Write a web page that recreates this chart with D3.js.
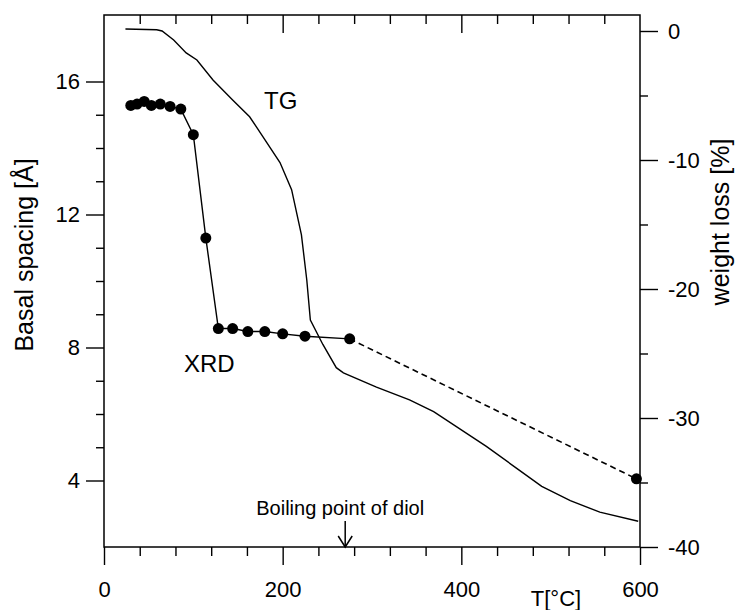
<!DOCTYPE html>
<html>
<head>
<meta charset="utf-8">
<script src="https://cdn.jsdelivr.net/npm/d3@7"></script>
<style>
  body { margin: 0; background: #fff; }
  svg text { font-family: "Liberation Sans", Arial, sans-serif; fill: #000; }
</style>
</head>
<body>
<div class="chart"></div>
<script>
// XRD basal spacing (T in °C, d in Å)
var xrdT = [30, 37, 45, 53, 63, 74, 86, 100, 114, 128, 144, 161, 180, 200, 225, 275];
var xrdD = [15.28, 15.32, 15.4, 15.28, 15.32, 15.25, 15.17, 14.4, 11.29, 8.57, 8.57, 8.48, 8.48, 8.41, 8.34, 8.26];
// extrapolated last point, joined by dashed line
var xrdEndT = 596, xrdEndD = 4.05;

// TG weight loss (T in °C, %)
var tgT = [24, 59, 65, 78, 92, 104, 122, 144, 163, 178, 197, 210, 221, 227, 231, 245, 260, 268, 305, 342, 369, 428, 462, 490, 522, 555, 598];
var tgW = [0.15, 0.1, 0, -0.7, -1.7, -2.25, -3.8, -5.35, -6.65, -8.2, -10.2, -12.3, -15.8, -19.3, -22.4, -24.3, -26.1, -26.5, -27.6, -28.6, -29.5, -32.2, -33.9, -35.3, -36.4, -37.3, -38.0];

var boilingT = 270;

var xMajor = [0, 200, 400, 600];
var xMinor = d3.range(0, 601, 40).filter(function(d) { return d % 200 !== 0; });
var yLeftMajor = [4, 8, 12, 16];
var yLeftMinor = [5, 6, 7, 9, 10, 11, 13, 14, 15];
var yRightMajor = [0, -10, -20, -30, -40];
var yRightMinor = [-5, -15, -25, -35];

var width = 736, height = 610;
var plotL = 104, plotR = 640, plotT = 15, plotB = 547;

var svg = d3.select(".chart").append("svg")
    .attr("width", width)
    .attr("height", height);

var x = d3.scaleLinear().domain([0, 600]).range([plotL, plotR]);
var yL = d3.scaleLinear().domain([2, 18]).range([plotB, plotT]);
var yR = d3.scaleLinear().domain([-40, 1.24]).range([plotB, plotT]);

// plain hyphen minus like the original
var plain = function(d) { return String(d); };

function axisStyle(g) {
    g.select(".domain").remove();
    g.selectAll(".tick line").attr("stroke", "#000").attr("stroke-width", 1.4);
    g.selectAll(".tick text").style("font-size", "22px");
}

// frame
svg.append("rect")
    .attr("x", plotL).attr("y", plotT)
    .attr("width", plotR - plotL).attr("height", plotB - plotT)
    .attr("fill", "none")
    .attr("stroke", "#000")
    .attr("stroke-width", 1.5);

// bottom axis
svg.append("g")
    .attr("transform", "translate(0," + plotB + ")")
    .call(d3.axisBottom(x).tickValues(xMinor).tickSize(9).tickFormat(""))
    .call(axisStyle);
svg.append("g")
    .attr("transform", "translate(0," + plotB + ")")
    .call(d3.axisBottom(x).tickValues(xMajor).tickSize(18).tickPadding(16).tickFormat(plain))
    .call(axisStyle);

// top axis (inward ticks)
svg.append("g")
    .attr("transform", "translate(0," + plotT + ")")
    .call(d3.axisBottom(x).tickValues(xMinor).tickSize(9).tickFormat(""))
    .call(axisStyle);
svg.append("g")
    .attr("transform", "translate(0," + plotT + ")")
    .call(d3.axisBottom(x).tickValues([200, 400]).tickSize(18).tickFormat(""))
    .call(axisStyle);

// left axis
svg.append("g")
    .attr("transform", "translate(" + plotL + ",0)")
    .call(d3.axisLeft(yL).tickValues(yLeftMinor).tickSize(8).tickFormat(""))
    .call(axisStyle);
svg.append("g")
    .attr("transform", "translate(" + plotL + ",0)")
    .call(d3.axisLeft(yL).tickValues(yLeftMajor).tickSize(18).tickPadding(6).tickFormat(plain))
    .call(axisStyle);

// right axis
svg.append("g")
    .attr("transform", "translate(" + plotR + ",0)")
    .call(d3.axisRight(yR).tickValues(yRightMinor).tickSize(8).tickFormat(""))
    .call(axisStyle);
svg.append("g")
    .attr("transform", "translate(" + plotR + ",0)")
    .call(d3.axisRight(yR).tickValues(yRightMajor).tickSize(18).tickPadding(10).tickFormat(plain))
    .call(axisStyle);

// axis titles
svg.append("text")
    .attr("transform", "translate(33," + 255 + ") rotate(-90)")
    .attr("text-anchor", "middle")
    .style("font-size", "25px")
    .text("Basal spacing [Å]");

svg.append("text")
    .attr("transform", "translate(729," + 222 + ") rotate(-90)")
    .attr("text-anchor", "middle")
    .style("font-size", "25px")
    .text("weight loss [%]");

svg.append("text")
    .attr("x", 556).attr("y", 606)
    .attr("text-anchor", "middle")
    .style("font-size", "22px")
    .text("T[°C]");

// TG curve
var tgLine = d3.line()
    .x(function(d) { return x(d[0]); })
    .y(function(d) { return yR(d[1]); });
svg.append("path")
    .datum(d3.zip(tgT, tgW))
    .attr("d", tgLine)
    .attr("fill", "none")
    .attr("stroke", "#000")
    .attr("stroke-width", 1.4);

// XRD curve
var xrdData = d3.zip(xrdT, xrdD);
var xrdLine = d3.line()
    .x(function(d) { return x(d[0]); })
    .y(function(d) { return yL(d[1]); });
svg.append("path")
    .datum(xrdData)
    .attr("d", xrdLine)
    .attr("fill", "none")
    .attr("stroke", "#000")
    .attr("stroke-width", 1.4);

svg.append("path")
    .datum([xrdData[xrdData.length - 1], [xrdEndT, xrdEndD]])
    .attr("d", xrdLine)
    .attr("fill", "none")
    .attr("stroke", "#000")
    .attr("stroke-width", 1.6)
    .attr("stroke-dasharray", "6,4");

svg.selectAll(".dot")
    .data(xrdData.concat([[xrdEndT, xrdEndD]]))
    .enter().append("circle")
    .attr("class", "dot")
    .attr("cx", function(d) { return x(d[0]); })
    .attr("cy", function(d) { return yL(d[1]); })
    .attr("r", 5.5)
    .attr("fill", "#000");

// labels
svg.append("text")
    .attr("x", 264).attr("y", 109)
    .style("font-size", "24px")
    .text("TG");

svg.append("text")
    .attr("x", 184).attr("y", 372)
    .style("font-size", "24px")
    .text("XRD");

// boiling point marker
var bx = x(boilingT);
svg.append("text")
    .attr("x", bx - 5).attr("y", 515)
    .attr("text-anchor", "middle")
    .style("font-size", "20px")
    .text("Boiling point of diol");

svg.append("line")
    .attr("x1", bx).attr("x2", bx)
    .attr("y1", 521).attr("y2", plotB)
    .attr("stroke", "#000").attr("stroke-width", 1.5);
svg.append("path")
    .attr("d", "M" + (bx - 7) + "," + (plotB - 11) + "L" + bx + "," + plotB + "L" + (bx + 7) + "," + (plotB - 11))
    .attr("fill", "none")
    .attr("stroke", "#000").attr("stroke-width", 1.5);
</script>
</body>
</html>
